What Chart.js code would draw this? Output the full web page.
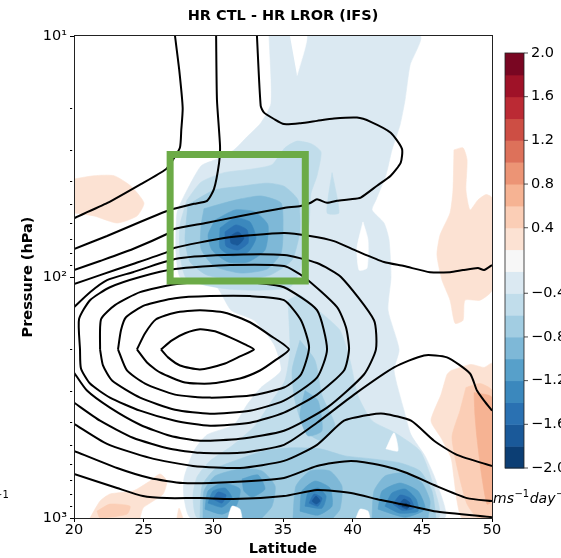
<!DOCTYPE html>
<html>
<head>
<meta charset="utf-8">
<script src="https://cdn.jsdelivr.net/npm/chart.js@4.4.1/dist/chart.umd.min.js"></script>
<style>
  html, body { margin: 0; padding: 0; background: #fff; }
</style>
</head>
<body>
<canvas id="chart" width="561" height="558"></canvas>
<script>
// colour levels (ms-1 day-1) and the 19 band colours, lowest band first
const levelEdges = [-2.0, -1.8, -1.6, -1.4, -1.2, -1.0, -0.8, -0.6, -0.4, -0.2,
                    0.2, 0.4, 0.6, 0.8, 1.0, 1.2, 1.4, 1.6, 1.8, 2.0];
const levelColors = ['#0c3e74', '#1a5999', '#2a71b2', '#3b88bd', '#57a0ca', '#7eb8d7',
                     '#a2cde2', '#c1ddeb', '#dbe9f2', '#f7f7f7', '#fce2d3', '#fbceb6',
                     '#f6b393', '#ec9475', '#dd715a', '#cd4e44', '#bb2a34', '#9f1228', '#790622'];
const colorbarTicks = [2.0, 1.6, 1.2, 0.8, 0.4, -0.4, -0.8, -1.2, -1.6, -2.0];
const latTicks = [20, 25, 30, 35, 40, 45, 50];
const pressureTicks = [10, 20, 30, 40, 50, 60, 70, 80, 90, 100, 200, 300, 400, 500, 600, 700, 800, 900, 1000];
const pressureLabels = {10: '10\u00b9', 100: '10\u00b2', 1000: '10\u00b3'};

// shaded areas, [latitude, hPa]
const negMain = [[34.0,10],[44.83,10],[44.12,13.2],[43.76,18.4],[43.40,23.4],[42.82,29.7],[42.39,37.7],[41.67,47.9],[41.39,52.7],[42.25,59.7],[42.61,70.2],[42.75,100],[42.54,137.3],[43.33,199.7],[42.97,244.3],[43.69,358.6],[44.19,451.6],[45.19,552.4],[45.98,702.3],[46.56,1000],[28.40,1000],[27.90,826.8],[27.90,682.1],[28.61,526.5],[29.55,451.6],[31.48,410.2],[32.42,338.6],[33.42,287.5],[34.86,244.3],[34.35,190.4],[32.92,151.2],[31.27,137.3],[30.26,110.3],[29.04,106.1],[27.61,100],[27.32,79.6],[27.39,54.2],[27.90,46.1],[29.12,34.6],[30.26,32.4],[31.48,29.7],[32.42,26.2],[33.42,22.9],[34.14,19.0],[34.0,10]];
const neg04Upper = [[28.11,47.9],[29.12,40.4],[30.77,36.9],[32.70,35.7],[34.21,34.2],[35.14,29.1],[36.01,27.3],[37.08,28.1],[37.73,30.3],[37.44,38.0],[37.01,45.0],[36.87,59.7],[36.44,77.3],[36.22,93.6],[35.50,110.3],[33.35,113.4],[31.20,112.4],[29.40,108.1],[28.04,101],[27.61,81.1],[27.61,60.8],[28.11,47.9]];
const neg04Spike = [[38.52,36.9],[39.02,54.2],[38.16,54.2],[38.52,36.9]];
const neg04Lower = [[35.36,124.8],[36.22,118.9],[37.51,137.3],[39.09,166.4],[39.81,221.9],[40.38,310.5],[41.39,394.8],[43.04,443.0],[44.83,526.5],[45.69,702.3],[46.12,1000],[28.90,1000],[28.54,811.1],[28.83,675.8],[29.76,579.6],[31.34,501.9],[32.99,414.2],[34.21,325.8],[35.14,268.9],[35.50,201.6],[35.36,124.8]];
const neg06Upper = [[28.18,50.2],[30.05,43.6],[31.99,42.0],[33.85,40.8],[35.07,42.0],[36.08,47.9],[36.22,63.8],[35.65,85.0],[34.07,98.2],[31.91,103],[29.55,98.2],[28.33,86.6],[27.97,70.2],[28.18,50.2]];
const neg06Lower = [[29.04,1000],[29.19,736.8],[30.12,626.0],[31.91,568.5],[33.71,526.5],[35.50,511.6],[37.66,516.5],[39.45,552.4],[41.39,568.5],[43.40,590.8],[44.83,638.0],[45.69,773.1],[45.98,1000]];
const neg06Streak = [[36.22,183.2],[37.30,221.9],[37.80,310.5],[38.73,414.2],[37.80,478.3],[36.58,434.6],[35.86,325.8],[35.65,244.3],[36.22,183.2]];
const neg08Upper = [[29.33,52.1],[30.77,49.3],[31.99,47.4],[33.42,46.1],[34.86,49.3],[35.0,63.8],[34.86,79.6],[33.85,92.7],[31.99,96.3],[30.05,90.1],[29.12,76.5],[29.12,61.4],[29.33,52.1]];
const neg08West = [[29.26,1000],[29.33,773.1],[30.12,669.4],[31.91,626.0],[33.49,638.0],[34.43,736.8],[34.21,892.8],[33.49,1000]];
const neg08Mid = [[35.72,1000],[35.93,736.8],[36.94,638.0],[38.37,638.0],[39.23,736.8],[39.09,918.8],[38.59,1000]];
const neg08East = [[41.39,1000],[41.53,773.1],[42.32,669.4],[43.76,650.3],[44.98,715.9],[45.55,851.0],[45.41,1000]];
const neg08Streak = [[36.58,296.0],[37.51,325.8],[37.80,434.6],[36.79,455.9],[36.22,376.3],[36.58,296.0]];
const neg10Upper = [[30.12,58.0],[31.56,52.7],[32.99,53.7],[33.92,60.8],[33.71,77.3],[32.49,86.6],[31.05,86.6],[29.90,77.3],[29.62,67.0],[30.12,58.0]];
const neg10West = [[29.40,918.8],[29.62,773.1],[30.62,715.9],[31.91,758.2],[31.63,892.8],[30.62,964.0],[29.40,918.8]];
const neg10West2 = [[32.06,688.5],[33.21,663.0],[33.71,758.2],[32.78,818.9],[32.20,773.1],[32.06,688.5]];
const neg10Mid = [[36.22,936.7],[36.36,773.1],[37.30,702.3],[38.37,751.0],[38.52,892.8],[37.51,973.3],[36.22,936.7]];
const neg10East = [[41.82,918.8],[42.11,773.1],[43.40,715.9],[44.69,773.1],[45.19,918.8],[43.76,992.2],[41.82,918.8]];
const neg12Upper = [[30.48,62.6],[31.56,56.9],[32.63,59.1],[33.06,68.9],[32.49,78.8],[31.34,81.9],[30.48,75.8],[30.48,62.6]];
const neg12West = [[29.62,867.4],[29.98,773.1],[30.84,751.0],[31.34,826.8],[30.62,901.4],[29.62,867.4]];
const neg12Mid = [[36.58,892.8],[36.79,787.8],[37.51,751.0],[38.09,811.1],[37.80,910.0],[36.58,892.8]];
const neg12East = [[42.32,892.8],[42.82,787.8],[43.76,758.2],[44.55,834.7],[44.69,936.7],[43.40,954.8],[42.32,892.8]];
const neg14Upper = [[30.84,65.0],[31.63,60.8],[32.42,63.8],[32.49,72.3],[31.77,77.3],[30.91,74.4],[30.84,65.0]];
const neg14West = [[29.98,834.7],[30.34,780.5],[30.91,803.0],[30.62,867.4],[29.98,834.7]];
const neg14Mid = [[36.87,867.4],[37.23,795.4],[37.80,826.8],[37.51,892.8],[36.87,867.4]];
const neg14East = [[42.90,875.7],[43.40,803.0],[44.12,826.8],[44.40,910.0],[43.54,927.6],[42.90,875.7]];
const neg16Upper = [[31.20,67.6],[31.77,65.0],[32.20,68.9],[31.77,73.7],[31.27,72.3],[31.20,67.6]];
const neg16Mid = [[37.08,851.0],[37.37,811.1],[37.66,851.0],[37.37,875.7],[37.08,851.0]];
const neg16East = [[43.25,884.1],[43.69,834.7],[44.12,867.4],[43.90,918.8],[43.25,884.1]];
const neg18East = [[43.54,892.8],[43.83,867.4],[44.04,901.4],[43.54,892.8]];
const pos02West = [[20,39.2],[21.44,38.0],[22.87,38.0],[24.09,42.0],[25.02,49.3],[24.52,55.8],[23.09,59.7],[21.44,55.8],[20,54.2]];
const pos02East = [[47.27,29.7],[47.92,29.1],[48.21,32.7],[48.13,43.6],[48.42,52.7],[48.99,47.9],[49.57,45.5],[50,46.9],[50,113.4],[49.14,124.8],[48.06,124.8],[47.92,151.2],[47.35,155.6],[46.99,124.8],[46.41,103],[46.05,81.1],[46.27,67.0],[46.99,54.2],[47.20,43.6],[47.27,29.7]];
const pos02SouthEast = [[47.06,244.3],[48.49,230.6],[49.43,237.3],[50,228.4],[50,1000],[47.85,1000],[47.49,851.0],[47.27,682.1],[47.06,563.1],[46.34,464.7],[45.62,394.8],[46.34,307.6],[46.77,253.8],[47.06,244.3]];
const pos04SouthEast = [[48.13,287.5],[49.14,276.7],[50,296.0],[50,1000],[48.99,1000],[48.21,875.7],[47.56,638.0],[47.13,460.3],[47.70,358.6],[48.13,287.5]];
const pos06SouthEast = [[48.71,301.7],[50,316.5],[50,851.0],[49.64,875.7],[49.21,638.0],[48.92,464.7],[48.78,376.3],[48.71,301.7]];
const pos02SouthWest = [[21.15,1000],[21.87,851.0],[22.58,795.4],[24.23,773.1],[25.45,702.3],[26.17,656.9],[26.67,702.3],[26.39,795.4],[25.45,867.4],[24.95,910.0],[24.74,1000]];
const pos04SouthWest = [[21.65,936.7],[22.58,875.7],[24.02,892.8],[23.80,964.0],[21.87,996.9],[21.65,936.7]];
const pos02Bit1 = [[27.39,1000],[27.54,910.0],[27.82,1000]];
const pos02Bit2 = [[40.53,1000],[40.74,964],[40.96,1000]];
const gapTop = [[35.50,10],[36.72,10],[36.01,14.6]];
const gapSliver = [[40.74,59.1],[41.10,70.2],[41.03,91.8],[40.46,93.6],[40.31,75.8],[40.74,59.1]];
const gapLow = [[42.39,516.5],[42.97,443],[43.25,526.5],[42.39,516.5]];
const gapFloor1 = [[31.05,1000],[31.34,892.8],[31.91,918.8],[32.06,1000]];
const gapFloor2 = [[40.24,1000],[40.53,918.8],[41.10,936.7],[41.24,1000]];

// black contours, [latitude, hPa]
const lineA = [[27.25,10],[27.55,13.8],[27.8,19.9],[27.7,24.5],[27.6,29.1],[27.0,33.3],[26.6,35.7],[24.8,41.2],[22.4,49.3],[20,57]];
const lineB = [[30.2,10],[30.26,18.4],[30.48,28.6],[30.41,33.7],[30.05,43.1],[29.55,48.3],[28.61,49.7],[27.18,52.1],[26.67,53.2],[24.74,59.1],[22.37,67.6],[20,76.5]];
const lineC = [[20,93.6],[21.87,85.8],[24.23,76.5],[26.67,66.3],[27.18,63.2],[29.55,59.6],[31.96,55.8],[35.07,51.7],[36.27,50.7],[36.99,49.2],[37.44,47.6],[38.16,49.2],[38.88,48.3],[39.86,47.6],[40.58,46.8],[41.75,41.8],[42.73,38.0],[43.45,33.5],[43.54,29.4],[42.73,25.2],[41.3,22.7],[40.31,21.8],[38.66,22.0],[37.44,22.5],[36.27,23.0],[35.07,23.2],[34.35,22.1],[33.64,20.8],[33.4,19.5],[33.13,10]];
const lineD = [[20,107],[21.87,98.2],[24.23,88.3],[26.67,78.8],[27.18,75.8],[30.77,68.9],[35.07,65.7],[36.94,67.6],[38.66,71.0],[40.31,78.1],[42.25,86.7],[43.69,90.1],[45.55,95.5],[46.99,95.5],[47.92,93.6],[48.99,91.8],[49.43,93.6],[50,89.2]];
const jet1 = [[26.24,199.7],[27.03,183.2],[27.97,171.2],[29.04,164.8],[30.12,168.0],[31.20,178.0],[32.27,190.4],[32.92,199.7],[31.91,213.5],[30.84,228.4],[29.04,241.9],[27.61,232.8],[26.75,215.5],[26.24,199.7]];
const jet2 = [[24.52,199.7],[25.10,171.2],[25.89,149.8],[27.25,140.6],[29.04,137.3],[30.84,140.6],[32.63,154.1],[34.07,174.6],[35.43,199.7],[34.43,221.9],[33.35,244.3],[31.91,263.8],[29.76,276.7],[27.97,274.1],[26.17,249.0],[25.24,226.2],[24.52,199.7]];
const jet3 = [[23.16,199.7],[23.37,166.4],[23.73,146.9],[25.10,130.9],[27.25,122.4],[29.76,120.0],[32.63,120.0],[35.07,124.8],[36.29,151.2],[36.87,195.9],[36.29,253.8],[35.07,287.5],[32.63,310.5],[29.76,316.6],[27.25,307.6],[25.10,276.7],[23.80,244.3],[23.16,199.7]];
const jet4 = [[21.87,199.7],[21.94,149.8],[22.94,130.9],[24.74,115.6],[27.25,107.1],[30.48,104.0],[33.35,106.1],[35.07,110.3],[37.44,137.3],[38.16,199.7],[37.44,261.3],[35.07,325.8],[32.63,358.6],[29.76,369.1],[27.25,355.2],[24.74,316.6],[22.73,268.9],[22.08,232.8],[21.87,199.7]];
const jet5 = [[20.43,199.7],[20.36,149.8],[21.15,124.8],[22.58,110.3],[24.74,100],[27.25,92.7],[31.2,89.2],[35.07,90.1],[36.51,100],[38.88,133.4],[39.52,161.7],[39.74,199.7],[39.38,244.3],[37.44,307.6],[35.07,365.5],[32.63,402.4],[29.76,414.2],[27.25,394.8],[24.74,358.6],[22.58,316.5],[21.15,276.7],[20.5,239.7],[20.43,199.7]];
const jet6 = [[20,133.4],[21.15,115.6],[22.37,103],[24.23,95.5],[27.25,84.2],[30.77,81.1],[35.07,81.1],[37.44,87.5],[39.16,100],[41.53,151.2],[41.67,199.7],[40.81,253.8],[38.16,348.4],[35.07,434.6],[31.91,469.2],[29.04,478.3],[26.89,455.9],[24.74,410.2],[22.58,348.4],[20.93,296],[20,249]];
const low1 = [[20,332.1],[21.87,394.8],[24.23,464.7],[26.89,516.5],[29.04,536.7],[31.91,536.7],[35.07,497.0],[37.44,402.4],[40.10,307.6],[42.97,237.3],[45.12,211.5],[46.77,215.5],[48.42,251.4],[48.92,296.0],[49.43,325.8],[50,358.6]];
const low2 = [[20,406.3],[22.37,492.2],[25.45,563.1],[28.54,608.1],[31.91,620.0],[35.07,579.6],[37.44,497.0],[39.38,394.8],[41.24,372.6],[42.25,369.1],[44.19,394.8],[45.84,478.3],[47.49,547.2],[50,608.1]];
const low3 = [[20,526.5],[23.09,620.0],[25.45,682.1],[27.82,715.9],[31.41,709.0],[35.07,682.1],[37.44,608.1],[39.88,579.6],[42.25,608.1],[43.90,650.3],[45.84,729.7],[48.21,826.8],[50,851.0]];
const low4 = [[20,656.9],[23.09,751.0],[24.95,811.1],[26.67,826.8],[29.04,826.8],[31.41,834.7],[35.07,811.1],[37.44,765.5],[39.88,787.8],[42.03,842.7],[44.19,892.8],[45.84,936.7],[50,992.2]];

// highlighted region
const boxLat = [26.9, 36.6];
const boxP = [31, 104];

// band index into levelColors, or null for white, in drawing order
const shading = [
  [8, negMain], [10, pos02West], [10, pos02East], [10, pos02SouthEast], [10, pos02SouthWest],
  [10, pos02Bit1], [10, pos02Bit2],
  [7, neg04Upper], [7, neg04Spike], [7, neg04Lower], [11, pos04SouthEast], [11, pos04SouthWest],
  [6, neg06Upper], [6, neg06Lower], [6, neg06Streak], [12, pos06SouthEast],
  [5, neg08Upper], [5, neg08West], [5, neg08Mid], [5, neg08East], [5, neg08Streak],
  [4, neg10Upper], [4, neg10West], [4, neg10West2], [4, neg10Mid], [4, neg10East],
  [3, neg12Upper], [3, neg12West], [3, neg12Mid], [3, neg12East],
  [2, neg14Upper], [2, neg14West], [2, neg14Mid], [2, neg14East],
  [1, neg16Upper], [1, neg16Mid], [1, neg16East],
  [0, neg18East],
  [null, gapTop], [null, gapSliver], [null, gapLow], [null, gapFloor1], [null, gapFloor2]
];
const contours = [lineA, lineB, lineC, lineD, jet1, jet2, jet3, jet4, jet5, jet6, low1, low2, low3, low4];

const toPoints = arr => arr.map(([x, y]) => ({x, y}));
const datasets = [];
shading.forEach(([band, poly]) => {
  const color = band === null ? '#ffffff' : levelColors[band];
  datasets.push({
    data: toPoints(poly), showLine: true, fill: 'shape', tension: 0.2,
    backgroundColor: color, borderColor: color, borderWidth: 0.6, pointRadius: 0
  });
});
contours.forEach(line => {
  datasets.push({
    data: toPoints(line), showLine: true, fill: false, tension: 0.2,
    borderColor: '#000', borderWidth: 2, pointRadius: 0
  });
});
datasets.push({
  data: toPoints([[boxLat[0], boxP[0]], [boxLat[1], boxP[0]], [boxLat[1], boxP[1]],
                  [boxLat[0], boxP[1]], [boxLat[0], boxP[0]]]),
  showLine: true, fill: false, tension: 0, borderColor: '#6cab47', borderWidth: 7,
  borderCapStyle: 'square', borderJoinStyle: 'miter', pointRadius: 0
});
// first pushed is painted first
datasets.forEach((d, i) => { d.order = datasets.length - i; });

const FONT = '"DejaVu Sans", sans-serif';

const frame = {
  id: 'frame',
  afterDatasetsDraw(chart) {
    const {ctx, chartArea: a} = chart;
    ctx.save();
    ctx.strokeStyle = '#222';
    ctx.lineWidth = 1;
    ctx.strokeRect(a.left + 0.5, a.top - 0.5, a.right - a.left, a.bottom - a.top + 1);
    ctx.restore();
  }
};

const colorbar = {
  id: 'colorbar',
  afterDraw(chart) {
    const {ctx, chartArea: a} = chart;
    const x0 = a.right + 13, w = 19, top = a.top + 17, bottom = a.bottom - 50;
    const step = (bottom - top) / levelColors.length;
    ctx.save();
    levelColors.forEach((c, i) => {
      ctx.fillStyle = c;
      ctx.fillRect(x0, bottom - (i + 1) * step, w, step + 0.5);
    });
    ctx.strokeStyle = '#222';
    ctx.lineWidth = 0.8;
    ctx.strokeRect(x0, top, w, bottom - top);
    ctx.fillStyle = '#000';
    ctx.font = '14.5px ' + FONT;
    ctx.textBaseline = 'middle';
    ctx.textAlign = 'left';
    colorbarTicks.forEach(v => {
      const k = levelEdges.findIndex(e => Math.abs(e - v) < 1e-9);
      const y = bottom - k * step;
      ctx.beginPath();
      ctx.moveTo(x0 + w, y);
      ctx.lineTo(x0 + w + 4, y);
      ctx.stroke();
      ctx.fillText((v < 0 ? '\u2212' : '') + Math.abs(v).toFixed(1), x0 + w + 7, y);
    });

    // units under the colour bar
    ctx.textBaseline = 'alphabetic';
    let x = a.right + 1;
    const base = a.bottom - 15.5;
    [['ms', false], ['\u22121', true], ['day', false], ['\u22121', true]].forEach(([t, sup]) => {
      ctx.font = sup ? '10px ' + FONT : 'italic 14px ' + FONT;
      ctx.fillText(t, x, sup ? base - 5.5 : base);
      x += ctx.measureText(t).width + 0.5;
    });
    ctx.font = '10px ' + FONT;
    ctx.fillText('\u22121', -6, 498);
    ctx.restore();
  }
};

new Chart(document.getElementById('chart'), {
  type: 'scatter',
  data: { datasets },
  options: {
    responsive: false,
    animation: false,
    events: [],
    layout: { padding: { left: 0, right: 69, top: 0, bottom: 0 } },
    font: { family: FONT },
    plugins: {
      legend: { display: false },
      tooltip: { enabled: false },
      title: {
        display: true,
        text: 'HR CTL - HR LROR (IFS)',
        color: '#000',
        fullSize: false,
        font: { family: FONT, size: 14.5, weight: 'bold' },
        padding: { top: 7.3, bottom: 11.3 }
      }
    },
    scales: {
      x: {
        type: 'linear',
        min: 20, max: 50,
        afterBuildTicks: axis => { axis.ticks = latTicks.map(v => ({value: v})); },
        afterFit: scale => { scale.height = 40; },
        ticks: { color: '#000', font: { family: FONT, size: 14.5 }, padding: -0.5, autoSkip: false, maxRotation: 0 },
        grid: { drawOnChartArea: false, drawTicks: true, tickLength: 4, tickColor: '#000', tickWidth: 1 },
        border: { display: false },
        title: { display: true, text: 'Latitude', color: '#000',
                 font: { family: FONT, size: 14.5, weight: 'bold' }, padding: { top: 0, bottom: 0 } }
      },
      y: {
        type: 'logarithmic',
        reverse: true,
        min: 10, max: 1000,
        afterBuildTicks: axis => { axis.ticks = pressureTicks.map(v => ({value: v})); },
        afterFit: scale => { scale.width = 74; },
        ticks: {
          color: '#000', font: { family: FONT, size: 14.5 }, padding: 3, autoSkip: false,
          callback: v => pressureLabels[v] || ''
        },
        grid: {
          drawOnChartArea: false, drawTicks: true, tickLength: 4, tickColor: '#000', tickWidth: 1,
          tickBorderDash: c => (c.tick && pressureLabels[c.tick.value]) ? [] : [2.2, 10]
        },
        border: { display: false },
        title: { display: true, text: 'Pressure (hPa)', color: '#000',
                 font: { family: FONT, size: 14.5, weight: 'bold' }, padding: { top: 19.3, bottom: 0 } }
      }
    }
  },
  plugins: [frame, colorbar]
});
</script>
</body>
</html>
